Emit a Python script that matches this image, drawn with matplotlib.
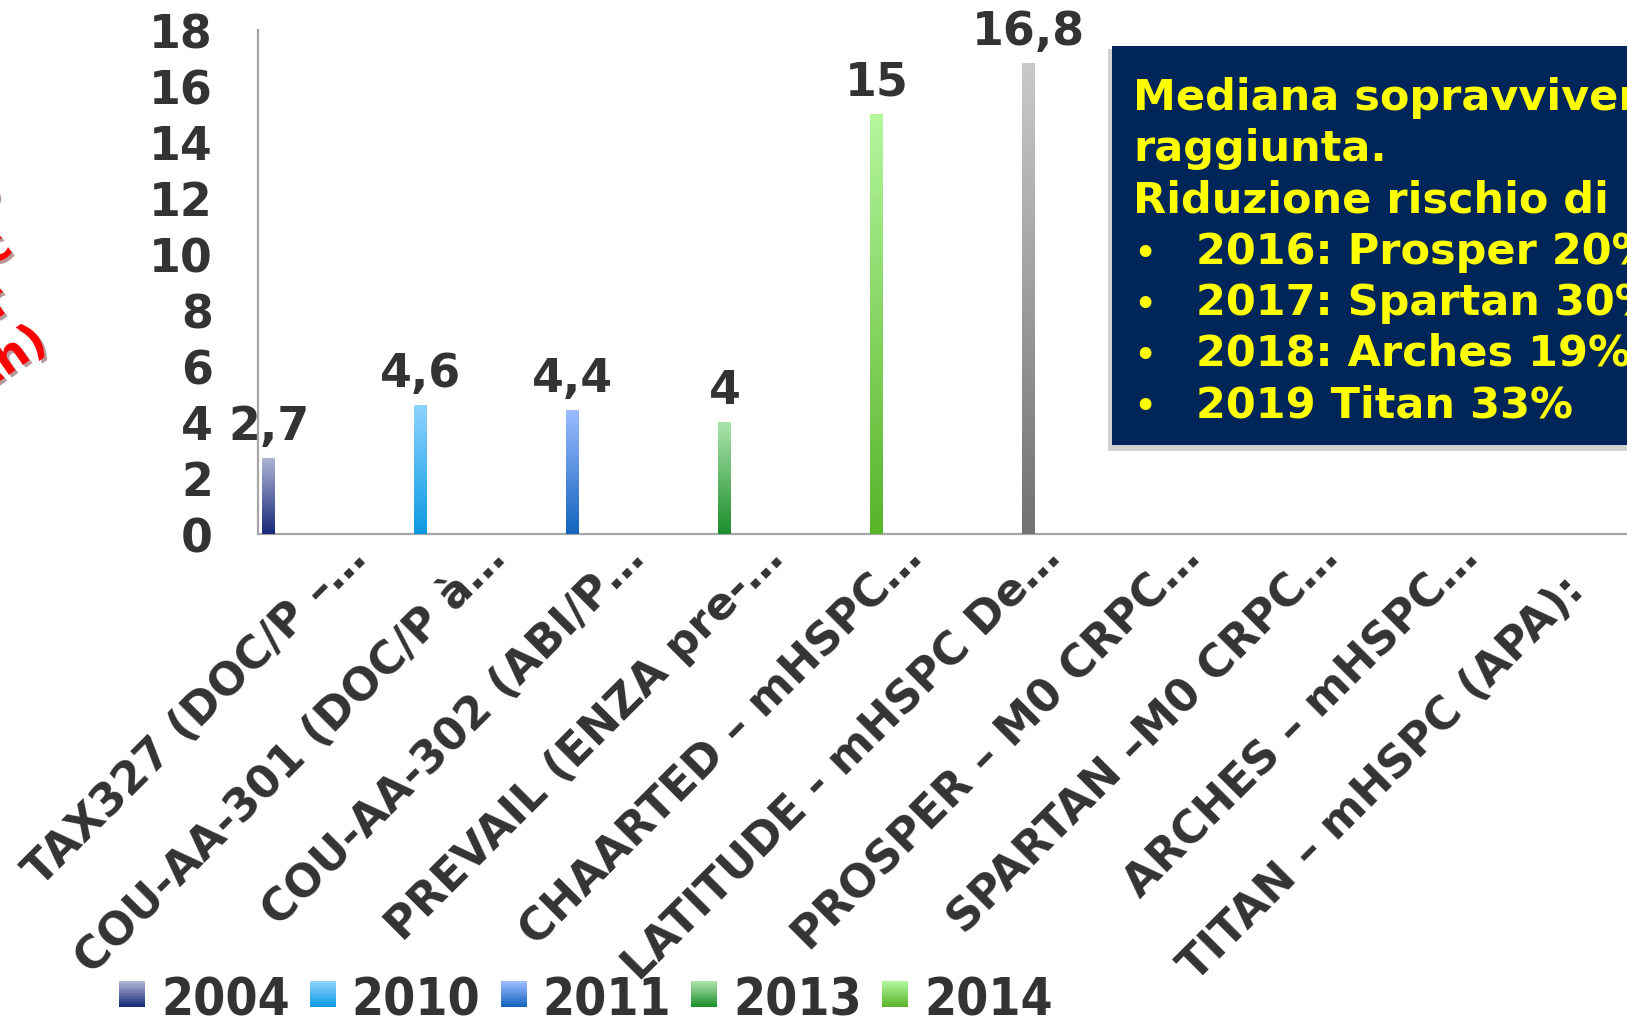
import numpy as np
import matplotlib
matplotlib.use("Agg")
from matplotlib import pyplot as plt
from matplotlib import font_manager
from matplotlib.colors import LinearSegmentedColormap
from matplotlib.legend_handler import HandlerBase
from matplotlib.patches import Rectangle
from matplotlib.transforms import ScaledTranslation
import matplotlib.patheffects as pe

### dati
trials = ["TAX327 (DOC/P –…", "COU-AA-301 (DOC/P à…", "COU-AA-302 (ABI/P…",
          "PREVAIL (ENZA pre-…", "CHAARTED – mHSPC…", "LATITUDE - mHSPC De…",
          "PROSPER – M0 CRPC…", "SPARTAN –M0 CRPC…", "ARCHES – mHSPC…",
          "TITAN – mHSPC (APA):   "]
os_gain = [2.7, 4.6, 4.4, 4, 15, 16.8, None, None, None, None]
legend_years = ["2004", "2010", "2011", "2013", "2014"]
y_ticks = [0, 2, 4, 6, 8, 10, 12, 14, 16, 18]

# gradiente (alto, basso) delle barre visibili
grad_top = ["#aeb3d6", "#8dd3ff", "#9bbcff", "#a9e3a9", "#b3f69c", "#c9c9c9"]
grad_bottom = ["#172a78", "#0c9ae2", "#1464bd", "#1e8e2e", "#59b42a", "#727272"]

box_title = ["Mediana sopravvivenza non", "raggiunta.", "Riduzione rischio di morte:"]
box_bullets = ["2016: Prosper 20%", "2017: Spartan 30%", "2018: Arches 19%", "2019 Titan 33%"]
side_lines = ["Beneficio", "in OS vs doc", "vs comparator", "(month)"]

TXT = "#333333"
W, H = 1627, 1020

fig = plt.figure(figsize=(W / 100, H / 100), dpi=100)
ax = fig.add_axes([257.5 / W, 1 - 535 / H, 1390 / W, 504 / H])

n = len(trials)
x = np.arange(n)
w = 0.0935
for k, v in enumerate(os_gain):
    if v is None:
        continue
    xb = x[k] + (k - (n - 1) / 2) * w
    bar = ax.bar(xb, v, w, color=grad_bottom[k], zorder=2)[0]
    cm = LinearSegmentedColormap.from_list("g%d" % k, [grad_bottom[k], grad_top[k]])
    ax.imshow(np.linspace(1, 0, 64)[:, None], cmap=cm, aspect="auto", zorder=3,
              extent=(bar.get_x(), bar.get_x() + bar.get_width(), 0, bar.get_height()))
    ax.annotate(f"{v:g}".replace(".", ","), (xb, v), xytext=(0, 14),
                textcoords="offset points", ha="center", va="baseline",
                fontsize=33, fontweight="bold", color=TXT)

ax.set_xlim(-0.5, n - 0.5)
ax.set_ylim(0, 18)
ax.set_yticks(y_ticks)
ax.set_yticklabels([str(t) for t in y_ticks], fontsize=33, fontweight="bold", color=TXT)
ax.tick_params(axis="y", length=0, pad=32)
ax.tick_params(axis="x", length=0, pad=18)
ax.set_xticks(x)
ax.set_xticklabels(trials, rotation=45, ha="right", va="baseline", rotation_mode="anchor",
                   fontsize=32, fontweight="bold", color=TXT)
shift = ScaledTranslation(41 / 100, 0, fig.dpi_scale_trans)
for lab in ax.get_xticklabels():
    lab.set_transform(lab.get_transform() + shift)
for s in ["top", "right"]:
    ax.spines[s].set_visible(False)
for s in ["left", "bottom"]:
    ax.spines[s].set_color("#a6a6a6")
    ax.spines[s].set_linewidth(1.6)


# legenda con quadratini sfumati
class Swatch:
    def __init__(self, top, bottom):
        self.top = top
        self.bottom = bottom


class GradientSquare(HandlerBase):
    def create_artists(self, legend, orig_handle, xdescent, ydescent, width, height, fontsize, trans):
        cols = LinearSegmentedColormap.from_list("", [orig_handle.bottom, orig_handle.top])(np.linspace(0, 1, 16))
        side = width
        y0 = 5.0
        out = []
        for i, c in enumerate(cols):
            out.append(Rectangle((-xdescent, y0 + i * side / 16), side, side / 16 + 0.3,
                                 facecolor=c, edgecolor="none", transform=trans))
        return out


fp = font_manager.FontProperties(family="DejaVu Sans", weight="bold", stretch="condensed", size=37)
if "Condensed" not in font_manager.findfont(fp):
    fp = font_manager.FontProperties(family="DejaVu Sans", weight="bold", size=34)
fs = fp.get_size_in_points()
handles = [Swatch(grad_top[i], grad_bottom[i]) for i in range(len(legend_years))]
fig.legend(handles, legend_years, handler_map={Swatch: GradientSquare()},
           loc="lower left", bbox_to_anchor=(119 / W, -0.006), ncol=5, frameon=False,
           prop=fp, labelcolor=TXT, handlelength=18.7 / fs, handleheight=0.7,
           handletextpad=11.5 / fs, columnspacing=14.5 / fs, borderpad=0, borderaxespad=0)

# riquadro blu
fig.add_artist(Rectangle((1108 / W, 1 - 452 / H), 560 / W, 402 / H, transform=fig.transFigure,
                         facecolor="#9a9a9a", alpha=0.45, edgecolor="none"))
fig.add_artist(Rectangle((1112 / W, 1 - 446 / H), 560 / W, 399 / H, transform=fig.transFigure,
                         facecolor="#002659", edgecolor="none"))
yy = 110
for line in box_title:
    fig.text(1133 / W, 1 - yy / H, line, fontsize=31, fontweight="bold", color="#ffff00", va="baseline")
    yy += 51.2
for line in box_bullets:
    fig.text(1134 / W, 1 - yy / H, "•", fontsize=24, fontweight="bold", color="#ffff00", va="baseline")
    fig.text(1196 / W, 1 - yy / H, line, fontsize=31, fontweight="bold", color="#ffff00", va="baseline")
    yy += 51.2

# testo rosso a sinistra (tagliato)
side_pos = [(5, 198), (15, 252), (14, 308), (50, 347)]
for line, (px, py) in zip(side_lines, side_pos):
    fig.text(px / W, 1 - py / H, line, fontsize=33, fontweight="bold", color="#ff0000",
             rotation=35, rotation_mode="anchor", ha="right", va="baseline",
             path_effects=[pe.SimplePatchShadow(offset=(2, -2), alpha=0.4), pe.Normal()])

fig.savefig("out.png", dpi=100)
